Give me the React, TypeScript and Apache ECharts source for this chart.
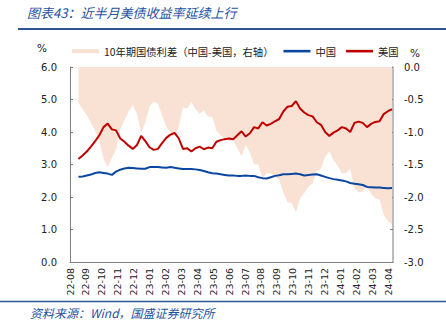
import React, { useEffect, useRef } from 'react';
import * as echarts from 'echarts';

// Month tick labels, one per month on the x axis
const monthLabels = [
  '22-08', '22-09', '22-10', '22-11', '22-12', '23-01', '23-02', '23-03', '23-04', '23-05',
  '23-06', '23-07', '23-08', '23-09', '23-10', '23-11', '23-12', '24-01', '24-02', '24-03',
  '24-04',
];
// Observations are sampled every 8 days, the first one around 17 Aug 2022
const firstSampleMonth = 0.53;
const sampleStepDays = 8;
const daysPerMonth = 30.44;
const axisEndMonth = 20.3;

// 10Y China government bond yield (%)
const chinaYield = [
  2.62, 2.63, 2.66, 2.69, 2.74, 2.76, 2.74, 2.72, 2.68, 2.78,
  2.84, 2.88, 2.90, 2.89, 2.88, 2.87, 2.87, 2.92, 2.92, 2.92,
  2.91, 2.90, 2.92, 2.90, 2.88, 2.86, 2.86, 2.86, 2.85, 2.83,
  2.80, 2.76, 2.73, 2.72, 2.70, 2.68, 2.66, 2.66, 2.65, 2.65,
  2.66, 2.65, 2.65, 2.61, 2.58, 2.57, 2.61, 2.65, 2.67, 2.70,
  2.70, 2.71, 2.72, 2.70, 2.66, 2.68, 2.69, 2.70, 2.66, 2.62,
  2.58, 2.55, 2.53, 2.51, 2.48, 2.43, 2.41, 2.39, 2.37, 2.31,
  2.30, 2.29, 2.29, 2.28, 2.27, 2.28,
];

// 10Y US Treasury yield (%)
const usYield = [
  3.17, 3.28, 3.40, 3.55, 3.72, 3.90, 4.15, 4.26, 4.08, 4.05,
  3.80, 3.70, 3.58, 3.48, 3.60, 3.88, 3.72, 3.53, 3.45, 3.48,
  3.66, 3.82, 3.92, 3.97, 3.80, 3.48, 3.50, 3.40, 3.50, 3.55,
  3.47, 3.52, 3.50, 3.70, 3.75, 3.78, 3.80, 3.78, 3.90, 4.02,
  3.86, 3.96, 4.15, 4.11, 4.30, 4.20, 4.25, 4.33, 4.40, 4.63,
  4.78, 4.80, 4.95, 4.72, 4.60, 4.52, 4.48, 4.30, 4.22, 4.00,
  3.88, 3.98, 4.05, 4.15, 4.11, 4.00, 4.28, 4.32, 4.28, 4.15,
  4.25, 4.31, 4.33, 4.55, 4.64, 4.70,
];

// 10Y spread China - US (%), right axis
const spreadCnUs = [
  -0.55, -0.65, -0.74, -0.86, -0.98, -1.14, -1.41, -1.54, -1.40, -1.27,
  -0.96, -0.82, -0.68, -0.59, -0.72, -1.01, -0.85, -0.61, -0.53, -0.56,
  -0.75, -0.92, -1.00, -1.07, -0.92, -0.62, -0.64, -0.54, -0.65, -0.72,
  -0.67, -0.76, -0.77, -0.98, -1.05, -1.10, -1.14, -1.12, -1.25, -1.37,
  -1.20, -1.31, -1.50, -1.50, -1.72, -1.63, -1.64, -1.68, -1.73, -1.93,
  -2.08, -2.09, -2.23, -2.02, -1.94, -1.84, -1.79, -1.60, -1.56, -1.38,
  -1.30, -1.43, -1.52, -1.64, -1.63, -1.57, -1.87, -1.93, -1.91, -1.84,
  -1.95, -2.02, -2.04, -2.27, -2.37, -2.42,
];

const BLUE = '#0A47A0';
const RED = '#C00000';
const PEACH = '#F9E1D3';
const TITLE_BLUE = '#2452A0';
const NUM_FONT = 'DejaVu Sans';
const CJK_FONT = '"Noto Sans CJK SC", "Noto Sans", sans-serif';
const LINE_ICON = 'path://M0,0h27v2.6h-27z';

export default function App() {
  const ref = useRef<HTMLDivElement>(null);

  useEffect(() => {
    document.body.style.margin = '0';
    const chart = echarts.init(ref.current!, null, { renderer: 'svg' });

    const at = (i: number) => firstSampleMonth + (i * sampleStepDays) / daysPerMonth;
    const toPoints = (arr: number[]) => arr.map((v, i) => [at(i), v]);

    chart.setOption({
      animation: false,
      backgroundColor: '#fff',
      grid: { left: 70, right: 53, top: 67, bottom: 71, containLabel: false },
      legend: {
        left: 67,
        top: 41,
        itemWidth: 27,
        itemHeight: 4,
        itemGap: 10,
        textStyle: { fontFamily: CJK_FONT, fontSize: 10.3, color: '#222' },
        data: [
          { name: '10年期国债利差（中国-美国，右轴）', icon: 'rect' },
          { name: '中国', icon: LINE_ICON },
          { name: '美国', icon: LINE_ICON },
        ],
      },
      xAxis: {
        type: 'value',
        min: 0,
        max: axisEndMonth,
        interval: 1,
        axisLine: { show: true, onZero: false, lineStyle: { color: '#7F7F7F', width: 1 } },
        axisTick: { show: false },
        splitLine: { show: false },
        axisLabel: {
          rotate: 90,
          margin: 6,
          showMaxLabel: false,
          fontFamily: NUM_FONT,
          fontSize: 9.5,
          color: '#222',
          formatter: (v: number) => {
            const k = Math.round(v);
            return Math.abs(v - k) < 1e-6 && monthLabels[k] ? monthLabels[k] : '';
          },
        },
      },
      yAxis: [
        {
          type: 'value',
          min: 0,
          max: 6,
          interval: 1,
          position: 'left',
          axisLine: { show: true, lineStyle: { color: '#7F7F7F' } },
          axisTick: { show: true, inside: true, length: 3, lineStyle: { color: '#7F7F7F' } },
          splitLine: { show: false },
          axisLabel: {
            margin: 13,
            fontFamily: NUM_FONT,
            fontSize: 10,
            color: '#222',
            formatter: (v: number) => v.toFixed(1),
          },
        },
        {
          type: 'value',
          min: -3,
          max: 0,
          interval: 0.5,
          position: 'right',
          axisLine: { show: true, lineStyle: { color: '#A6A6A6', width: 1.5 } },
          axisTick: { show: true, inside: true, length: 3, lineStyle: { color: '#7F7F7F' } },
          splitLine: { show: false },
          axisLabel: {
            margin: 11,
            fontFamily: NUM_FONT,
            fontSize: 10,
            color: '#222',
            formatter: (v: number) => v.toFixed(1),
          },
        },
      ],
      series: [
        {
          name: '10年期国债利差（中国-美国，右轴）',
          type: 'line',
          yAxisIndex: 1,
          data: toPoints(spreadCnUs),
          symbol: 'none',
          lineStyle: { width: 0, color: PEACH },
          itemStyle: { color: PEACH },
          areaStyle: { color: PEACH, opacity: 1 },
          z: 1,
        },
        {
          name: '中国',
          type: 'line',
          yAxisIndex: 0,
          data: toPoints(chinaYield),
          symbol: 'none',
          lineStyle: { width: 2, color: BLUE },
          itemStyle: { color: BLUE },
          z: 3,
        },
        {
          name: '美国',
          type: 'line',
          yAxisIndex: 0,
          data: toPoints(usYield),
          symbol: 'none',
          lineStyle: { width: 2, color: RED },
          itemStyle: { color: RED },
          z: 4,
        },
      ],
      graphic: [
        {
          type: 'text',
          left: 27,
          top: 6,
          style: {
            text: '图表43：近半月美债收益率延续上行',
            fontFamily: CJK_FONT,
            fontSize: 13,
            fontStyle: 'italic',
            fill: TITLE_BLUE,
          },
        },
        {
          type: 'line',
          shape: { x1: 18, y1: 29, x2: 446, y2: 29 },
          style: { stroke: '#2F5597', lineWidth: 2 },
        },
        {
          type: 'text',
          left: 37,
          top: 42,
          style: { text: '%', fontFamily: NUM_FONT, fontSize: 10.5, fill: '#222' },
        },
        {
          type: 'text',
          left: 410,
          top: 47,
          style: { text: '%', fontFamily: NUM_FONT, fontSize: 10.5, fill: '#222' },
        },
        {
          type: 'line',
          shape: { x1: 0, y1: 301.5, x2: 446, y2: 301.5 },
          style: { stroke: '#2F5597', lineWidth: 1.5 },
        },
        {
          type: 'text',
          left: 30,
          top: 306,
          style: {
            text: '资料来源：Wind，国盛证券研究所',
            fontFamily: CJK_FONT,
            fontSize: 12,
            fontStyle: 'italic',
            fill: TITLE_BLUE,
          },
        },
      ],
    });

    return () => chart.dispose();
  }, []);

  return <div ref={ref} style={{ width: 446, height: 333 }} />;
}
